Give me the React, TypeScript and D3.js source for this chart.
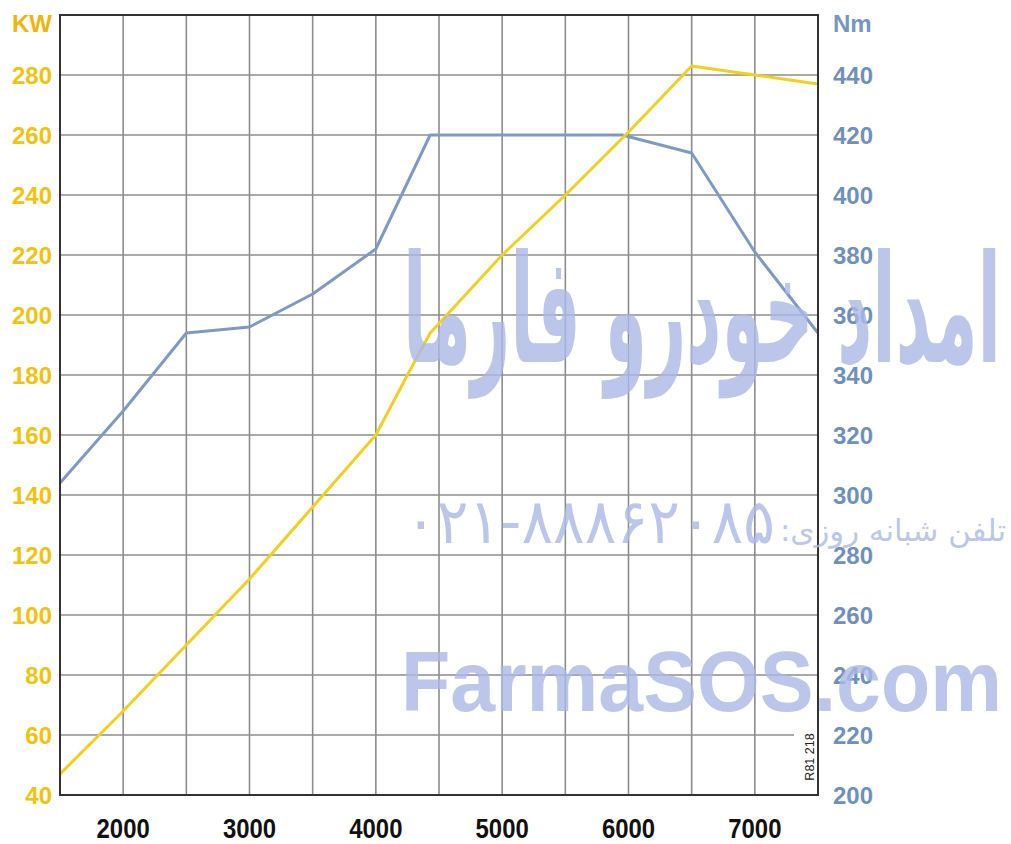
import React from "react";
import * as d3 from "d3";

// Engine speed (rpm) sample points for each curve
const powerRpm = [1500, 2000, 2500, 3000, 3500, 4000, 4250, 4430, 5000, 5500, 6000, 6500, 7000, 7500];
const powerKw = [47, 68, 90, 112, 136, 160, 180, 194, 220, 240, 261, 283, 280, 277];

const torqueRpm = [1500, 2000, 2500, 3000, 3500, 4000, 4430, 5000, 5500, 5950, 6500, 7000, 7500];
const torqueNm = [304, 328, 354, 356, 367, 382, 420, 420, 420, 420, 414, 381, 354];

// Axis labels
const rpmLabels = [2000, 3000, 4000, 5000, 6000, 7000];
const rpmGrid = [2000, 2500, 3000, 3500, 4000, 4500, 5000, 5500, 6000, 6500, 7000];
const kwLabels = [40, 60, 80, 100, 120, 140, 160, 180, 200, 220, 240, 260, 280];
const nmLabels = [200, 220, 240, 260, 280, 300, 320, 340, 360, 380, 400, 420, 440];

const W = 1011;
const H = 844;
const left = 60;
const right = 818;
const top = 15;
const bottom = 795;

const YELLOW = "#f2d020";
const BLUE = "#7e9ac2";
const KW_COLOR = "#f1c20e";
const NM_COLOR = "#6f90bd";
const WM = "#abb9e6";

export default function App() {
  const x = d3.scaleLinear().domain([1500, 7500]).range([left, right]);
  const yKw = d3.scaleLinear().domain([40, 300]).range([bottom, top]);
  const yNm = d3.scaleLinear().domain([200, 460]).range([bottom, top]);

  const powerLine = d3
    .line<number>()
    .x((_, i) => x(powerRpm[i]))
    .y((d) => yKw(d))
    .curve(d3.curveLinear);
  const torqueLine = d3
    .line<number>()
    .x((_, i) => x(torqueRpm[i]))
    .y((d) => yNm(d))
    .curve(d3.curveLinear);

  const labelFont = "'Liberation Sans', Arial, sans-serif";

  return (
    <svg
      width={W}
      height={H}
      style={{ position: "absolute", left: 0, top: 0, background: "#fff" }}
    >
      <rect x={0} y={0} width={W} height={H} fill="#fff" />

      {/* grid */}
      <g stroke="#8c8c8c" strokeWidth={1.6}>
        {rpmGrid.map((r) => (
          <line key={"v" + r} x1={x(r)} x2={x(r)} y1={top} y2={bottom} />
        ))}
        {kwLabels
          .filter((k) => k > 40)
          .map((k) => (
            <line
              key={"h" + k}
              x1={left}
              x2={k === 60 ? x(7310) : right}
              y1={yKw(k)}
              y2={yKw(k)}
            />
          ))}
      </g>

      {/* curves */}
      <path d={torqueLine(torqueNm) || ""} fill="none" stroke={BLUE} strokeWidth={3} strokeLinejoin="round" />
      <path d={powerLine(powerKw) || ""} fill="none" stroke={YELLOW} strokeWidth={3} strokeLinejoin="round" />

      {/* frame */}
      <rect
        x={left}
        y={top}
        width={right - left}
        height={bottom - top}
        fill="none"
        stroke="#333"
        strokeWidth={2}
      />

      <text
        transform={`translate(${right - 8},${bottom - 38}) rotate(-90)`}
        fontFamily={labelFont}
        fontSize={12.5}
        textAnchor="middle"
        dominantBaseline="central"
        fill="#222"
      >
        R81 218
      </text>

      {/* left axis (kW) */}
      <g fontFamily={labelFont} fontWeight="bold" fontSize={24} textAnchor="end" dominantBaseline="central">
        <text x={52} y={23} fill="#f3b40a">KW</text>
        {kwLabels.map((k) => (
          <text key={k} x={52} y={yKw(k)} fill={KW_COLOR}>
            {k}
          </text>
        ))}
      </g>

      {/* right axis (Nm) */}
      <g fontFamily={labelFont} fontWeight="bold" fontSize={24} textAnchor="start" dominantBaseline="central">
        <text x={833} y={23} fill="#7596c4">Nm</text>
        {nmLabels.map((n) => (
          <text key={n} x={833} y={yNm(n)} fill={NM_COLOR}>
            {n}
          </text>
        ))}
      </g>

      {/* bottom axis (rpm) */}
      <g fontFamily={labelFont} fontWeight="bold" fontSize={26} textAnchor="middle" dominantBaseline="central" fill="#111">
        {rpmLabels.map((r) => (
          <text key={r} transform={`translate(${x(r)},828) scale(0.92,1.08)`}>
            {r}
          </text>
        ))}
      </g>

      {/* site watermark */}
      <g fill={WM} opacity={0.8} style={{ pointerEvents: "none" }}>
        <text
          x={403}
          y={362}
          fontFamily="'DejaVu Sans', sans-serif"
          fontWeight="bold"
          fontSize={150}
          textLength={598}
          lengthAdjust="spacingAndGlyphs"
        >
          امداد خودرو فارما
        </text>
        <text
          x={405}
          y={543}
          fontFamily="'DejaVu Sans', sans-serif"
          fontSize={62}
          textLength={370}
          lengthAdjust="spacingAndGlyphs"
        >
          ۰۲۱-۸۸۸۶۲۰۸۵
        </text>
        <text
          x={780}
          y={541}
          fontFamily="'DejaVu Sans', sans-serif"
          fontSize={30}
          textLength={226}
          lengthAdjust="spacingAndGlyphs"
        >
          {"تلفن شبانه روزی:\u200F"}
        </text>
        <text
          x={401}
          y={711}
          fontFamily="'Liberation Sans', Arial, sans-serif"
          fontWeight="bold"
          fontSize={86}
          textLength={601}
          lengthAdjust="spacingAndGlyphs"
        >
          FarmaSOS.com
        </text>
      </g>
    </svg>
  );
}
